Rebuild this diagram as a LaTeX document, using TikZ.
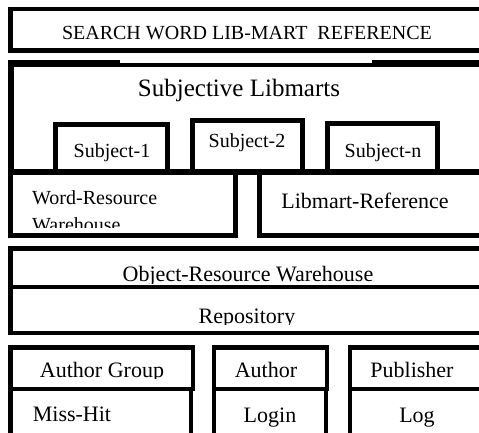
\documentclass[tikz,border=0pt]{standalone}
\usepackage{fontspec}
\setmainfont{Liberation Serif}
\begin{document}
\begin{tikzpicture}[x=1pt,y=-1pt,
  frame/.style={draw=black,line width=4.6pt},
  heavyframe/.style={draw=black,line width=6.5pt},
  txt/.style={inner sep=0pt,anchor=base,font=\fontsize{22pt}{26pt}\selectfont},
  smalltxt/.style={txt,font=\fontsize{20pt}{24pt}\selectfont},
  bigtxt/.style={txt,font=\fontsize{25pt}{29pt}\selectfont}]
\useasboundingbox (0,0) rectangle (479,432);
\clip (0,0) rectangle (479,432);

% search bar
\draw[frame,line width=4.2pt] (10.5,9) rectangle (495,50.5);
\node[smalltxt] (search) at (247,39.3) {SEARCH WORD LIB-MART\ \ REFERENCE};

% subjective libmarts block
\draw[heavyframe] (11,63.5) rectangle (495,172);
\fill[white] (120,59) rectangle (372,63.3);
\node[bigtxt] (subjective) at (239,96) {Subjective Libmarts};
\draw[frame] (55.5,124.5) rectangle (167.5,172);
\draw[frame] (192.5,120.5) rectangle (302.5,172);
\draw[frame] (327.5,123.5) rectangle (437.5,172);
\node[smalltxt] (sub1) at (112,157) {Subject-1};
\node[smalltxt] (sub2) at (247,147) {Subject-2};
\node[smalltxt] (subn) at (383,157) {Subject-n};

% warehouses of words and references
\draw[frame] (10.5,172) rectangle (235.5,235.5);
\draw[frame] (259.5,172) rectangle (495,235.5);
\node[smalltxt,anchor=base west] (wordres) at (32,204) {Word-Resource};
\begin{scope}
  \clip (14,180) rectangle (232,227);
  \node[smalltxt,anchor=base west] (wordwh) at (32,231) {Warehouse};
\end{scope}
\node[txt] (libref) at (365,208) {Libmart-Reference};

% object warehouse and repository
\draw[frame] (10.5,248.5) rectangle (495,333);
\draw[frame] (10.5,287) -- (495,287);
\begin{scope}
  \clip (14,252) rectangle (479,283);
  \node[txt] (objwh) at (248,281.5) {Object-Resource Warehouse};
\end{scope}
\begin{scope}
  \clip (14,290) rectangle (479,324);
  \node[txt] (repo) at (247,323) {Repository};
\end{scope}

% bottom row
\draw[frame] (10.5,347.5) rectangle (193,389);
\draw[frame] (10.5,389) rectangle (191,450);
\draw[frame] (214,347.5) rectangle (327,389);
\draw[frame] (214,389) rectangle (326,450);
\draw[frame] (350,347.5) rectangle (495,389);
\draw[frame] (350,389) rectangle (495,450);
\begin{scope}
  \clip (0,350) rectangle (479,378.5);
  \node[txt] (authgrp) at (102,377) {Author Group};
  \node[txt] (author) at (266,377) {Author};
  \node[txt] (publisher) at (412,377) {Publisher};
\end{scope}
\begin{scope}
  \clip (0,392) rectangle (479,427);
  \node[txt] (misshit) at (72,421) {Miss-Hit};
  \node[txt] (login) at (270,422) {Login};
  \node[txt] (log) at (417,422) {Log};
\end{scope}
\end{tikzpicture}
\end{document}
